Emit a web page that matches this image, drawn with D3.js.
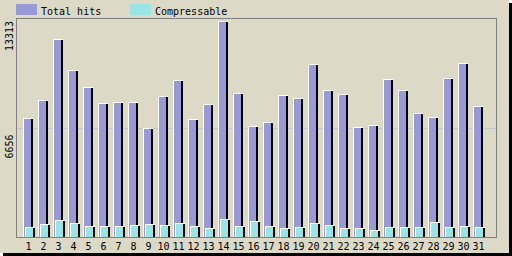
<!DOCTYPE html>
<html>
<head>
<meta charset="utf-8">
<script src="https://cdn.jsdelivr.net/npm/d3@7"></script>
<style>
  body { margin: 0; background: #ffffff; }
  svg { display: block; }
  text { font-family: "DejaVu Sans Mono", monospace; font-size: 10px; fill: #000; }
</style>
</head>
<body>
<svg id="chart" width="512" height="256"></svg>
<script>
// days of the month
var days = d3.range(1, 32).map(String);

// hits per day
var totalHits = [7234, 8328, 12036, 10152, 9118, 8146, 8207, 8207, 6626, 8571,
                 9544, 7173, 8085, 13130, 8754, 6748, 6991, 8632, 8450, 10516,
                 8936, 8693, 6687, 6808, 9605, 8936, 7538, 7295, 9665, 10577, 7963];
var compressable = [608, 790, 1033, 851, 669, 669, 669, 729, 790, 729,
                    851, 669, 547, 1094, 669, 973, 669, 547, 608, 851,
                    729, 547, 547, 426, 608, 608, 608, 912, 608, 669, 608];

var yTicks = [6656, 13313];
var seriesNames = ["Total hits", "Compressable"];
var seriesColors = ["#9999d5", "#99e5e5"];

var W = 512, H = 256;
var plot = {left: 16, right: 496, top: 18, bottom: 237};

var svg = d3.select("#chart");

// drop shadow + beige card
svg.append("rect").attr("x", 3).attr("y", 3).attr("width", W - 3).attr("height", H - 3).attr("fill", "#000");
svg.append("rect").attr("x", 0).attr("y", 0).attr("width", W - 3).attr("height", H - 3).attr("fill", "#dcd9c6");

var x = d3.scaleBand().domain(days).range([21, 486]);
var y = d3.scaleLinear().domain([0, 13313]).range([plot.bottom, plot.top]);

// grid line at the middle tick
svg.append("g").selectAll("line")
    .data(yTicks.slice(0, 1))
    .join("line")
    .attr("x1", plot.left).attr("x2", plot.right)
    .attr("y1", function(d){return Math.round(y(d)) + 0.5;})
    .attr("y2", function(d){return Math.round(y(d)) + 0.5;})
    .attr("stroke", "#c4c4c4");

// y labels, rotated
svg.append("g").selectAll("text")
    .data(yTicks)
    .join("text")
    .attr("text-anchor", "end")
    .attr("transform", function(d, i){
	return "translate(13," + (y(d) + (i == 0 ? 7 : 3)) + ") rotate(-90)";
    })
    .text(function(d){return d;});

// frame of the plot
svg.append("rect")
    .attr("x", plot.left + 0.5).attr("y", plot.top + 0.5)
    .attr("width", plot.right - plot.left).attr("height", plot.bottom - plot.top)
    .attr("fill", "none").attr("stroke", "#808080");

// draws one bar with the white top/left edge and the black right edge
function drawBars(values, offset, color){
    var g = svg.append("g");
    var bw = 10;
    g.selectAll("rect.fill")
	.data(values)
	.join("rect").attr("class", "fill")
	.attr("x", function(d, i){return x(days[i]) + offset;})
	.attr("y", function(d){return Math.round(y(d));})
	.attr("width", bw)
	.attr("height", function(d){return plot.bottom - Math.round(y(d));})
	.attr("fill", "#fff");
    g.selectAll("rect.body")
	.data(values)
	.join("rect").attr("class", "body")
	.attr("x", function(d, i){return x(days[i]) + offset + 1;})
	.attr("y", function(d){return Math.round(y(d)) + 1;})
	.attr("width", bw - 3)
	.attr("height", function(d){return plot.bottom - Math.round(y(d)) - 1;})
	.attr("fill", color);
    g.selectAll("rect.shade")
	.data(values)
	.join("rect").attr("class", "shade")
	.attr("x", function(d, i){return x(days[i]) + offset + bw - 2;})
	.attr("y", function(d){return Math.round(y(d)) + 1;})
	.attr("width", 2)
	.attr("height", function(d){return plot.bottom - Math.round(y(d)) - 1;})
	.attr("fill", "#000");
}
drawBars(totalHits, 2, seriesColors[0]);
drawBars(compressable, 4, seriesColors[1]);

// day labels
svg.append("g").selectAll("text")
    .data(days)
    .join("text")
    .attr("x", function(d){return x(d) + 7.5;})
    .attr("y", 250)
    .attr("text-anchor", "middle")
    .text(function(d){return d;});

// legend
var leg = svg.append("g").selectAll("g")
    .data(seriesNames)
    .join("g")
    .attr("transform", function(d, i){return "translate(" + (16 + i * 114) + ",4)";});
leg.append("rect")
    .attr("width", 21).attr("height", 11)
    .attr("fill", function(d, i){return seriesColors[i];});
leg.append("text")
    .attr("x", 25).attr("y", 11)
    .text(function(d){return d;});
</script>
</body>
</html>
